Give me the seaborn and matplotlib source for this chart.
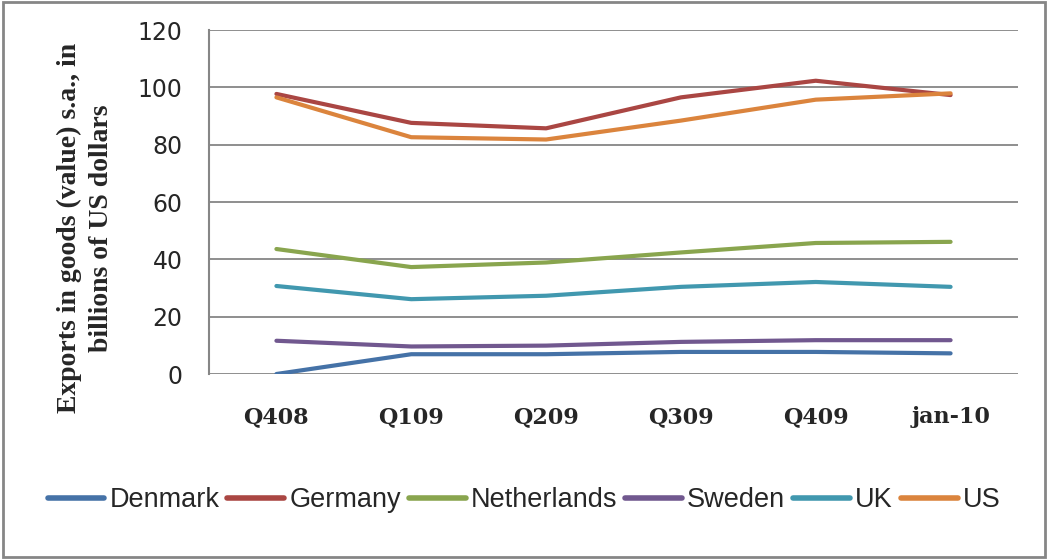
import pandas as pd
import matplotlib.pyplot as plt
import matplotlib.patches as patches
import seaborn as sns

# Values (billions of US dollars)
periods = ['Q408', 'Q109', 'Q209', 'Q309', 'Q409', 'jan-10']
denmark = [0.0, 6.9, 6.9, 7.7, 7.7, 7.2]
germany = [97.7, 87.6, 85.7, 96.5, 102.3, 97.3]
netherlands = [43.6, 37.3, 38.9, 42.4, 45.7, 46.1]
sweden = [11.6, 9.6, 9.9, 11.2, 11.8, 11.8]
uk = [30.7, 26.1, 27.3, 30.4, 32.1, 30.4]
us = [96.5, 82.6, 81.8, 88.4, 95.7, 97.9]

countries = ['Denmark', 'Germany', 'Netherlands', 'Sweden', 'UK', 'US']
series = [denmark, germany, netherlands, sweden, uk, us]
colors = ['#4572A7', '#AA4643', '#89A54E', '#71588F', '#4198AF', '#DB843D']

rows = []
for name, vals in zip(countries, series):
    for i, (p, v) in enumerate(zip(periods, vals)):
        rows.append({'pos': i, 'period': p, 'Country': name, 'value': v})
df = pd.DataFrame(rows)

sns.set_theme(style="white")
fig = plt.figure(figsize=(10.48, 5.59), dpi=100)
ax = fig.add_axes([209 / 1048, 1 - 374 / 559, (1018 - 209) / 1048, (374 - 30) / 559])

sns.lineplot(data=df, x='pos', y='value', hue='Country', hue_order=countries,
             palette=dict(zip(countries, colors)), linewidth=3, sort=False,
             legend=False, ax=ax)

ax.set_xlim(-0.5, 5.5)
ax.set_ylim(0, 120)
ax.set_yticks(range(0, 121, 20))
ax.set_xticks(range(len(periods)))
ax.set_xticklabels(periods, family='DejaVu Serif', fontsize=16, fontweight='bold')
ax.tick_params(axis='x', length=0, pad=23)
ax.tick_params(axis='y', length=0, pad=19, labelsize=17, labelfontfamily='DejaVu Sans')
ax.grid(axis='y', color='#868686', linewidth=1.3)
ax.set_axisbelow(True)
for side in ['top', 'right', 'bottom']:
    ax.spines[side].set_visible(False)
ax.spines['left'].set_color('#868686')
ax.spines['left'].set_linewidth(1.5)
ax.set_xlabel('')
ax.set_ylabel('Exports in goods (value) s.a., in\nbillions of US dollars',
              family='Liberation Serif', fontweight='bold', fontsize=20,
              linespacing=1.35)
ax.yaxis.set_label_coords(-0.118, 0.424)

# legend along the bottom
handles = [plt.Line2D([], [], color=c, linewidth=4) for c in colors]
fig.legend(handles, countries, loc='center', bbox_to_anchor=(0.5, 1 - 500 / 559),
           ncol=6, frameon=False, handlelength=2.1, handletextpad=0.18,
           columnspacing=0.3, prop={'family': 'Liberation Sans', 'size': 19.5})

# outer chart border
fig.patches.append(patches.Rectangle((3 / 1048, 2 / 559), 1 - 6 / 1048, 1 - 4 / 559,
                                     transform=fig.transFigure, fill=False,
                                     edgecolor='#868686', linewidth=2))

plt.savefig('out.png', dpi=100)
